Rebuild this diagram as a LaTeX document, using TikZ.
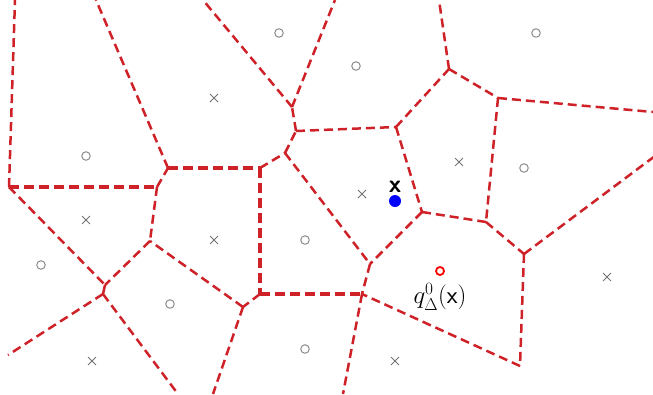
\documentclass[tikz,border=0pt]{standalone}
\usepackage{amsmath}
\usetikzlibrary{shapes.misc}
\begin{document}
\begin{tikzpicture}[x=1pt,y=-1pt,
  edge/.style={draw=vred, line width=2.5pt, dash pattern=on 9pt off 5pt},
  thick edge/.style={draw=vred, line width=3.6pt, dash pattern=on 10pt off 5pt},
  site o/.style={circle, draw=gray!90, line width=1pt, minimum size=8.5pt, inner sep=0pt},
  site x/.style={cross out, draw=gray!90!black, line width=0.9pt, minimum size=7pt, inner sep=0pt},
  lbl/.style={font=\fontsize{25}{30}\selectfont, inner sep=0pt}]
\definecolor{vred}{RGB}{206,34,40}
\useasboundingbox (0,0) rectangle (653,394);
% vertices
\coordinate (A) at (9,187);
\coordinate (B) at (157,187);
\coordinate (C) at (168,168);
\coordinate (D) at (260,168);
\coordinate (E) at (285,153);
\coordinate (F) at (296,131);
\coordinate (G) at (292,107);
\coordinate (H) at (396,127);
\coordinate (I) at (449,69);
\coordinate (J) at (498,98);
\coordinate (K) at (422,212);
\coordinate (L) at (486,222);
\coordinate (N) at (524,254);
\coordinate (O) at (520,366);
\coordinate (M) at (370,264);
\coordinate (P) at (362,294);
\coordinate (Q) at (260,294);
\coordinate (R) at (243,307);
\coordinate (S) at (150,241);
\coordinate (T) at (105,285);
\coordinate (U) at (103,294);
% free ends
\coordinate (tA) at (15,0);
\coordinate (tC) at (96,0);
\coordinate (tG1) at (203,0);
\coordinate (tG2) at (335,0);
\coordinate (tI) at (439,0);
\coordinate (rJ) at (653,112);
\coordinate (rN) at (655,156);
\coordinate (bP) at (343,394);
\coordinate (bR) at (213,394);
\coordinate (bU) at (178,394);
\coordinate (lU) at (8,355);
% thick edges
\draw[thick edge] (A) -- (B);
\draw[thick edge] (C) -- (D);
\draw[thick edge] (D) -- (Q);
\draw[thick edge] (Q) -- (P);
% regular edges
\foreach \a/\b in {A/tA, A/T, B/C, B/S, C/tC, D/E, E/F, E/M, F/G, F/H, G/tG1, G/tG2,
  H/I, H/K, I/tI, I/J, J/rJ, J/L, K/L, K/M, L/N, N/rN, N/O, O/P, M/P, P/bP,
  Q/R, R/S, R/bR, S/T, T/U, U/lU, U/bU}
  \draw[edge] (\a) -- (\b);
% sites
\foreach \p [count=\i] in {(279,33),(356,66),(536,33),(86,156),(524,168),(41,265),(170,304),(305,240),(305,349)}
  \node[site o] (o\i) at \p {};
\foreach \p [count=\i] in {(214,98),(86,220),(214,240),(92,361),(362,194),(459,162),(607,277),(395,361)}
  \node[site x] (x\i) at \p {};
% query point
\node[circle, fill=blue, inner sep=0pt, minimum size=12pt] (xq) at (395,201) {};
\node[lbl, anchor=south] (xl) at (395,193) {$\boldsymbol{\mathsf{x}}$};
\node[circle, draw=red, line width=1.8pt, inner sep=0pt, minimum size=8pt] (qd) at (440,271) {};
\node[lbl] (ql) at (440,297) {$q^0_\Delta(\mathsf{x})$};
\end{tikzpicture}
\end{document}
